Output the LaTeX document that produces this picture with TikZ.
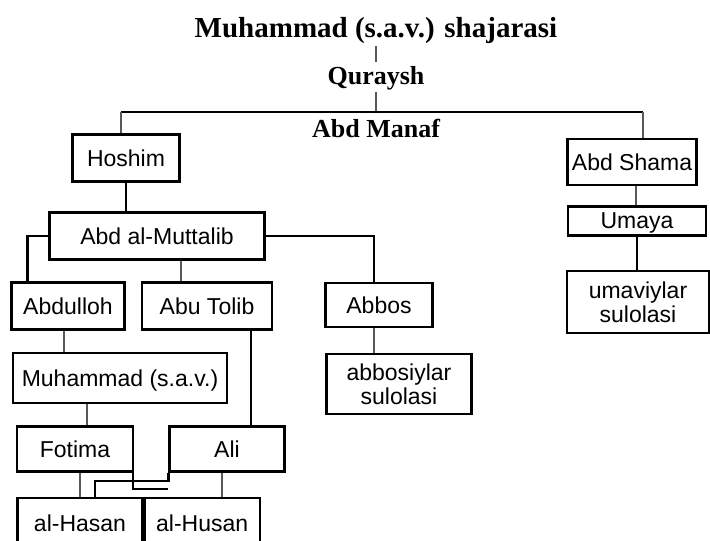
\documentclass[tikz,border=0pt]{standalone}
\usepackage{fontspec}
\setmainfont{Liberation Serif}
\newfontfamily\boxfont{Liberation Sans}
\usetikzlibrary{positioning}

\begin{document}
\begin{tikzpicture}[x = 1pt, y = -1pt,
    every node/.style = { align = center, inner sep = 0pt },
    box/.style = { draw, line width = 2.2pt, text depth = 0pt, font = \boxfont\fontsize{23}{24}\selectfont },
    head/.style = { anchor = base, font = \bfseries\fontsize{26}{28}\selectfont },
    link/.style = { line width = 2.2pt },
    tick/.style = { line width = 1.8pt, black!65 }]
    \path [use as bounding box] (0,0) rectangle (710,541);
    \clip (0,0) rectangle (710,541);

    % heading
    \node [head, font = \bfseries\fontsize{29}{31}\selectfont] (title) at (376,37) {Muhammad (s.a.v.) shajarasi};
    \node [head] (quraysh) at (376,84) {Quraysh};
    \node [head] (manaf) at (376,137) {Abd Manaf};
    \coordinate (barL) at (121,112);
    \coordinate (barR) at (643,112);

    % Hoshim line
    \node [box, minimum width = 107pt, minimum height = 47pt] (hoshim) at (126,158) {Hoshim};
    \node [box, minimum width = 215pt, minimum height = 47pt] (muttalib) at (157,236) {Abd al-Muttalib};
    \node [box, minimum width = 113pt, minimum height = 47pt] (abdulloh) at (68,306) {Abdulloh};
    \node [box, minimum width = 130pt, minimum height = 47pt] (abutolib) at (207,306) {Abu Tolib};
    \node [box, minimum width = 107pt, minimum height = 44pt] (abbos) at (379,305) {Abbos};
    \node [box, minimum width = 145pt, minimum height = 60pt] (abbosiylar) at (399,384) {abbosiylar\\sulolasi};
    \node [box, minimum width = 214pt, minimum height = 50pt] (muhammad) at (120,378) {Muhammad (s.a.v.)};
    \node [box, minimum width = 116pt, minimum height = 45pt] (fotima) at (75,449) {Fotima};
    \node [box, minimum width = 115pt, minimum height = 45pt] (ali) at (227,449) {Ali};
    \node [box, minimum width = 125pt, minimum height = 50pt] (hasan) at (80,523) {al-Hasan};
    \node [box, minimum width = 115pt, minimum height = 50pt, right = 0pt of hasan] (husan) {al-Husan};

    % Abd Shama line
    \node [box, minimum width = 129pt, minimum height = 46pt] (abdshama) at (632,162) {Abd Shama};
    \node [box, minimum width = 138pt, minimum height = 29pt] (umaya) at (637,221) {Umaya};
    \node [box, minimum width = 142pt, minimum height = 62pt] (umaviylar) at (638,302) {umaviylar\\sulolasi};

    \draw [tick] ([yshift = -3pt]title.south -| quraysh) -- ([yshift = 4pt]quraysh.north);
    \draw [tick] ([yshift = -2pt]quraysh.south) -- (quraysh |- barL);
    \draw [link] (barL) -- (barR);
    \draw [tick] (barL) -- (barL |- hoshim.north);
    \draw [tick] (barR) -- (barR |- abdshama.north);

    \draw [link] (hoshim.south) -- (hoshim.south |- muttalib.north);
    \draw [link] (muttalib.west) -| ([xshift = 17pt]abdulloh.north west);
    \draw [tick] ([xshift = 40pt]abutolib.north west |- muttalib.south) -- ([xshift = 40pt]abutolib.north west);
    \draw [link] (muttalib.east) -| ([xshift = -5pt]abbos.north);
    \draw [tick] ([xshift = -5pt]abbos.south) -- ([xshift = -5pt]abbos.south |- abbosiylar.north);
    \draw [tick] ([xshift = -4pt]abdulloh.south) -- ([xshift = -4pt]abdulloh.south |- muhammad.north);
    \draw [link] ([xshift = -22pt]abutolib.south east) -- ([xshift = -22pt]abutolib.south east |- ali.north);
    \draw [tick] ([xshift = 12pt]fotima.north) -- ([xshift = 12pt]fotima.north |- muhammad.south);
    \draw [tick] ([xshift = 5pt]fotima.south) -- ([xshift = 5pt]fotima.south |- hasan.north);
    \draw [link] ([xshift = -1pt]fotima.south east) |- ([yshift = -16pt]ali.south west);
    \draw [link] ([xshift = 15pt]hasan.north) |- ([yshift = -8pt]ali.south west) -- (ali.south west);
    \draw [tick] ([xshift = -5pt]ali.south) -- ([xshift = -5pt]ali.south |- husan.north);

    \draw [tick] ([xshift = 4pt]abdshama.south) -- ([xshift = 4pt]abdshama.south |- umaya.north);
    \draw [link] (umaya.south) -- (umaya.south |- umaviylar.north);
\end{tikzpicture}
\end{document}
